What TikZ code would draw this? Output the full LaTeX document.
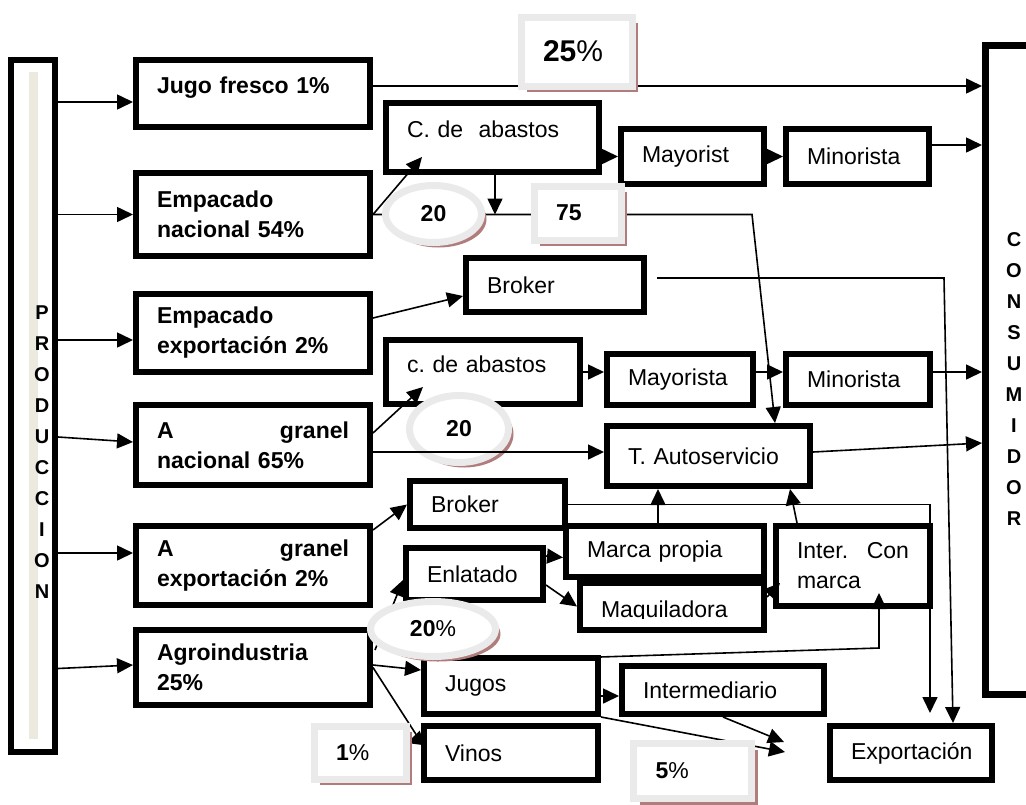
\documentclass[tikz,border=0pt]{standalone}
\usepackage{fontspec}
\setmainfont{Liberation Sans}
\usetikzlibrary{arrows.meta,calc,shapes.geometric,shadows}
\definecolor{framegray}{RGB}{234,234,234}
\definecolor{hatch}{RGB}{176,124,124}
\definecolor{strip}{RGB}{236,233,222}
\frenchspacing
\begin{document}
\begin{tikzpicture}[x=1pt,y=-1pt,
  font=\fontsize{23}{30}\selectfont,
  bx/.style={draw,line width=6pt,fill=white,inner xsep=21pt,inner ysep=0pt,align=left},
  bbx/.style={bx,font=\fontsize{23}{30}\selectfont\bfseries},
  raised/.style={text depth=16pt},
  lett/.style={font=\fontsize{20}{31}\selectfont\bfseries,align=center,inner sep=0pt},
  pct/.style={draw=framegray,line width=7pt,fill=white,inner xsep=22pt,inner ysep=0pt,align=left,
    drop shadow={shadow xshift=6pt,shadow yshift=-6pt,fill=hatch,opacity=1}},
  bub/.style={ellipse,draw=framegray,line width=7pt,fill=white,inner sep=0pt,
    drop shadow={shadow xshift=5pt,shadow yshift=-5pt,fill=hatch,opacity=1}},
  arr/.style={line width=1.6pt,-{Triangle[length=16pt,width=15pt]}}]
\useasboundingbox (0,0) rectangle (1026,804);
\fill[strip] (29,72) rectangle (38,739);
\node[draw,line width=6pt,minimum width=44pt,minimum height=692pt,inner sep=0pt,
  label={[lett,xshift=9pt,yshift=-46pt]center:{P\\R\\O\\D\\U\\C\\C\\I\\O\\N}}] (prod) at (33,406) {};
\node[draw,line width=7pt,minimum width=75pt,minimum height=649pt,inner sep=0pt,
  label={[lett,xshift=-9pt,yshift=-9.5pt]center:{C\\O\\N\\S\\U\\M\\I\\D\\O\\R}}] (cons) at (1023,370) {};
\node[bbx,raised,text width=192pt,minimum height=67pt] (jugo) at (253,93.5) {Jugo fresco 1\%};
\node[bbx,text width=192pt,minimum height=83pt] (empnac) at (253,214.5) {Empacado\\nacional 54\%};
\node[bbx,text width=192pt,minimum height=78pt] (empexp) at (253,333) {Empacado\\exportación 2\%};
\node[bbx,text width=192pt,minimum height=80pt] (granac) at (253,445) {A\hfill granel\\nacional 65\%};
\node[bbx,text width=192pt,minimum height=79pt] (granexp) at (253,565.5) {A\hfill granel\\exportación 2\%};
\node[bbx,text width=192pt,minimum height=75pt] (agro) at (253,667.5) {Agroindustria\\25\%};
\node[bx,raised,text width=171pt,minimum height=69pt] (cabas1) at (492.5,137.5) {C. de~~abastos};
\node[bx,text width=101pt,minimum height=55pt] (mayor1) at (692.5,156.5) {Mayorist};
\node[bx,text width=101pt,minimum height=55pt] (minor1) at (857.5,156.5) {Minorista};
\node[bx,text width=136pt,minimum height=54pt] (broker1) at (555,285) {Broker};
\node[bx,raised,text width=152pt,minimum height=64pt] (cabas2) at (483,372) {c. de abastos};
\node[bx,text width=104pt,minimum height=51pt] (mayor2) at (680,379.5) {Mayorista};
\node[bx,text width=102pt,minimum height=51pt] (minor2) at (858,379.5) {Minorista};
\node[bx,text width=161pt,minimum height=60pt] (tauto) at (708.5,456) {T. Autoservicio};
\node[bx,text width=156pt,minimum height=51pt] (marca) at (665,551.5) {Marca propia};
\node[bx,text width=113pt,minimum height=47pt] (broker2) at (487.5,504.5) {Broker};
\node[bx,text width=95pt,minimum height=52pt] (enlat) at (474.5,574) {Enlatado};
\node[bx,text width=142pt,minimum height=47pt,text height=22pt,text depth=0pt] (maqui) at (672,606.5) {Maquiladora};
\fill[white] ($(maqui.south west)+(6,-6)$) rectangle ($(maqui.south east)+(-6,-14.5)$);
\node[bx,text width=112pt,minimum height=80pt] (intercon) at (853,566) {Inter.\hfill Con\\marca};
\node[bx,text width=132pt,minimum height=56pt] (jugos) at (511,686) {Jugos};
\node[bx,text width=132pt,minimum height=54pt] (vinos) at (511,753) {Vinos};
\node[bx,text width=160pt,minimum height=48pt] (interm) at (723,690) {Intermediario};
\node[bx,align=center,text width=120pt,minimum height=54pt] (export) at (911,753) {Exportación};
\node[bub,minimum width=99pt,minimum height=67pt] (e20b) at (459,429) {\textbf{20}};
\coordinate (b75) at (752,214.5);
\coordinate (bk1) at (944,278);
\coordinate (bk2) at (930,504.5);
\coordinate (bj) at (879,648);
\coordinate (c1) at ($(cabas1.south)+(2.5,0)$);
\coordinate (m1) at ($(marca.north)+(-7,0)$);
\draw[arr] ($(prod.east |- jugo.west)+(0,8.5)$) -- ($(jugo.west)+(0,8.5)$);
\draw[arr] (prod.east |- empnac.west) -- (empnac.west);
\draw[arr] ($(prod.east |- empexp.west)+(0,7)$) -- ($(empexp.west)+(0,7)$);
\draw[arr] ($(prod.east |- granac.west)+(0,-8)$) -- ($(granac.west)+(0,-3)$);
\draw[arr] ($(prod.east |- granexp.west)+(0,-12.5)$) -- ($(granexp.west)+(0,-12.5)$);
\draw[arr] ($(prod.east |- agro.west)+(0,1)$) -- ($(agro.west)+(0,-2.5)$);
\draw[arr] ($(jugo.east)+(0,-7.5)$) -- ($(cons.west |- jugo.east)+(0,-7.5)$);
\draw[arr] (empnac.east) -- ($(cabas1.south west)+(39,-18)$);
\draw[arr] (c1) -- (c1 |- empnac.east);
\draw[arr] (empnac.east) -- (b75) -- ($(tauto.north east)+(-38,0)$);
\draw[arr] (cabas1.east |- mayor1.west) -- (mayor1.west);
\draw[arr] (mayor1) -- (minor1);
\draw[arr] ($(minor1.east)+(0,-11.5)$) -- ($(cons.west |- minor1.east)+(0,-11.5)$);
\draw[arr] ($(empexp.east)+(0,-15)$) -- ($(broker1.west)+(0,11)$);
\draw[arr] ($(broker1.east)+(10,-7)$) -- (bk1) -- ($(export.north)+(42,0)$);
\draw[arr] ($(granac.east)+(0,-12)$) -- ($(cabas2.south west)+(40,-20)$);
\draw[arr] ($(granac.east)+(0,7)$) -- ($(tauto.west)+(0,-4)$);
\draw[arr] (cabas2.east) -- (cabas2.east -| mayor2.west);
\draw[arr] (mayor2.east |- cabas2.east) -- (minor2.west |- cabas2.east);
\draw[arr] (minor2.east |- cabas2.east) -- (cons.west |- cabas2.east);
\draw[arr] ($(tauto.east)+(0,-4)$) -- ($(cons.west |- tauto.east)+(0,-13)$);
\draw[arr] ($(granexp.north east)+(0,7)$) -- (broker2.west);
\draw[arr] ($(broker2.east)+(-6,0)$) -- (bk2) -- ($(bk2 |- export.north)+(0,-10)$);
\draw[arr] ($(agro.east)+(2,-17.5)$) -- ($(enlat.west)+(0,6)$);
\draw[arr] ($(agro.east)+(0,-2.5)$) -- ($(jugos.west)+(0,-16)$);
\draw[arr] (agro.east) -- ($(vinos.west)+(-2,-14)$) -- ($(vinos.west)+(-14,-10)$);
\draw[arr] ($(enlat.east)+(0,-18)$) -- ($(marca.west)+(0,6)$);
\draw[arr] ($(enlat.east)+(0,11)$) -- (maqui.west);
\draw[arr] ($(maqui.east)+(0,-9.5)$) -- ($(intercon.west)+(7,17)$);
\draw[arr] (m1) -- (m1 |- tauto.south);
\draw[arr] ($(intercon.north)+(-56,0)$) -- ($(tauto.south east)+(-23,0)$);
\draw[arr] ($(jugos.east)+(0,10)$) -- ($(jugos.east -| interm.west)+(0,10)$);
\draw[arr] (interm.south) -- ($(export.west)+(-43,-11)$);
\draw[arr] (jugos.south east) -- ($(export.west)+(-42,-1)$);
\draw[arr] ($(jugos.north east)+(-1,2)$) -- (bj) -- ($(bj)+(0,-55)$);
\node[bub,minimum width=96pt,minimum height=57pt] (e20a) at (433.5,214) {\textbf{20}};
\node[bub,minimum width=125pt,minimum height=55pt] (e20p) at (433,629) {\textbf{20}\%};
\node[pct,text width=67pt,minimum height=69pt,font=\fontsize{30}{30}\selectfont] (p25) at (576.5,51.5) {\textbf{25}\%};
\node[pct,text width=43pt,minimum height=54pt] (p75) at (577.5,213) {\textbf{75}};
\node[pct,text width=48pt,minimum height=53pt] (p1) at (360,752.5) {\textbf{1}\%};
\node[pct,text width=74pt,minimum height=55pt] (p5) at (692.5,771) {\textbf{5}\%};
\end{tikzpicture}
\end{document}
